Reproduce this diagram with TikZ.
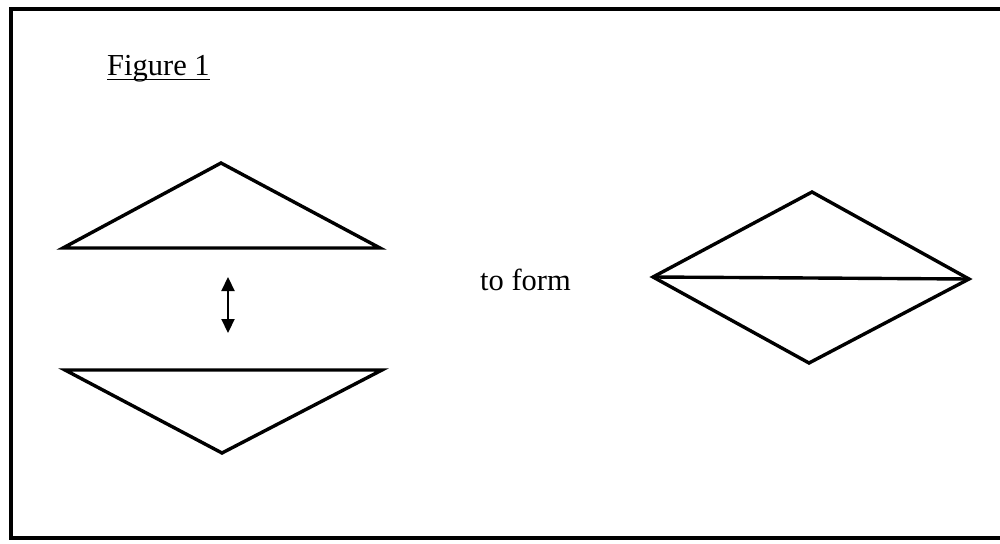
\documentclass[tikz,border=0pt]{standalone}
\usepackage{fontspec}
\setmainfont{Liberation Serif}
\usetikzlibrary{arrows.meta}
\begin{document}
\begin{tikzpicture}[x=1pt,y=-1pt,
  frame/.style={line width=3.2pt},
  figline/.style={line width=3.4pt, line join=miter},
  txt/.style={inner sep=0pt, font=\fontsize{30.5}{36}\selectfont},
  dblarrow/.style={line width=2.2pt, {Triangle[width=13pt,length=14pt]}-{Triangle[width=13pt,length=14pt]}}]
\useasboundingbox (0,0) rectangle (1000,543);
\fill[white] (0,0) rectangle (1000,543);
% frame (open at right edge of the crop)
\draw[frame] (1000,9) -- (11,9) -- (11,538) -- (1000,538);
% caption
\node[txt, anchor=base west] (fig) at (107,75) {Figure 1};
\draw[line width=1.8pt] (fig.base west) ++(0,4.5) -- ++(103,0);
% upper triangle
\coordinate (ta) at (221,163);
\coordinate (tl) at (63,248);
\coordinate (tr) at (380,248);
\draw[figline] (ta) -- (tl) -- (tr) -- cycle;
% lower triangle
\coordinate (bl) at (65,370);
\coordinate (br) at (382,370);
\coordinate (bb) at (222,453);
\draw[figline] (bl) -- (br) -- (bb) -- cycle;
% double arrow
\coordinate (au) at (228,277);
\coordinate (ad) at (228,333);
\draw[dblarrow] (au) -- (ad);
% text
\node[txt, anchor=base west] (form) at (480,290) {to form};
% diamond
\coordinate (dt) at (812,192);
\coordinate (dl) at (653,277);
\coordinate (dr) at (969,279);
\coordinate (db) at (809,363);
\draw[figline] (dl) -- (dt) -- (dr) -- (db) -- cycle;
\draw[figline] (dl) -- (dr);
\end{tikzpicture}
\end{document}
